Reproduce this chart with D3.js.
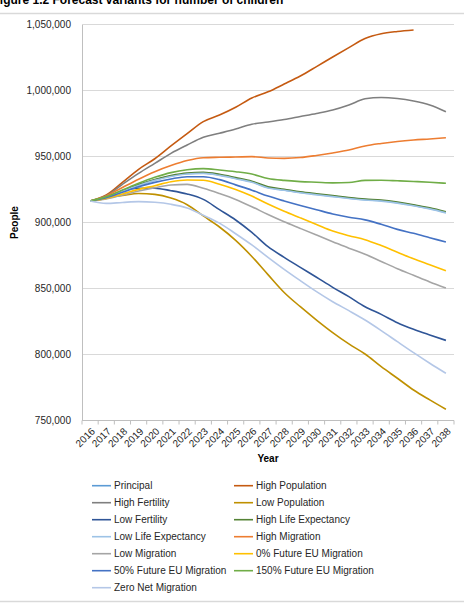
<!DOCTYPE html>
<html>
<head>
<meta charset="utf-8">
<script src="https://cdn.jsdelivr.net/npm/d3@7"></script>
<style>
  body { margin: 0; background: #fff; }
  svg { font-family: "Liberation Sans", Arial, sans-serif; }
</style>
</head>
<body>
<div id="container"></div>
<script>
// data (people, ages 0-15)
const years = d3.range(2016, 2039);

const principal   = [916300, 919100, 923900, 928400, 932200, 935200, 937000, 937500, 936000, 933500, 930800, 926500, 924700, 922800, 921300, 919900, 918500, 917300, 916500, 915000, 913000, 910600, 907600];
const highPop     = [916300, 920800, 930400, 940300, 948300, 958000, 967300, 976400, 981400, 987300, 994300, 999000, 1004900, 1011000, 1018100, 1025400, 1032500, 1039400, 1043000, 1044700, 1045800];
const highFert    = [916300, 920300, 928900, 937200, 944800, 952400, 958700, 964500, 967600, 970800, 974400, 976100, 978000, 980300, 982600, 985200, 989000, 993700, 994700, 993900, 992000, 989000, 983900];
const lowPop      = [916300, 918800, 920500, 922000, 921300, 918500, 913500, 905000, 896600, 886500, 874300, 860500, 847000, 836200, 826100, 816600, 808000, 800400, 790800, 782000, 773100, 765600, 758500];
const lowFert     = [916300, 918300, 924100, 925900, 925900, 924100, 921600, 917500, 909700, 901900, 892500, 881700, 873600, 866000, 858500, 850900, 843800, 836200, 830400, 824100, 819100, 814800, 810700];
const highLE      = [916300, 919200, 924100, 928700, 932600, 935600, 937500, 938000, 936500, 934000, 931300, 927000, 925200, 923300, 921800, 920400, 919000, 917800, 917000, 915500, 913500, 911100, 908100];
const lowLE       = [916300, 919000, 923700, 928100, 931900, 934900, 936700, 937200, 935700, 933200, 930500, 926200, 924400, 922500, 921000, 919600, 918200, 917000, 916200, 914700, 912700, 910300, 907300];
const highMig     = [916300, 920100, 926500, 932800, 938500, 943100, 946900, 949100, 949400, 949600, 949900, 948900, 948600, 949200, 950800, 952700, 954900, 958000, 959900, 961400, 962500, 963300, 964200];
const lowMig      = [916300, 917800, 920800, 923900, 926400, 928400, 928900, 926000, 922000, 917500, 912000, 906000, 900500, 895500, 890500, 885500, 880500, 876000, 870500, 865000, 860000, 855000, 850400];
const eu0         = [916300, 918300, 921600, 925100, 927900, 930900, 932200, 932000, 929000, 925000, 920000, 914000, 908500, 903500, 898500, 893500, 890000, 887000, 882500, 877500, 872500, 868000, 863500];
const eu50        = [916300, 918800, 922900, 927100, 930400, 933000, 934700, 934700, 932500, 928500, 924500, 920000, 916300, 912900, 909700, 906500, 904000, 902000, 898600, 894800, 891800, 888500, 885200];
const eu150       = [916300, 919600, 924600, 929700, 934200, 937800, 940000, 940800, 939800, 938500, 936700, 933400, 931900, 931000, 930500, 930000, 930300, 931900, 932000, 931600, 931100, 930500, 929700];
const zeroNet     = [916300, 914500, 915200, 915800, 915300, 913800, 911000, 905500, 899500, 891500, 883000, 873600, 864500, 855900, 847600, 840000, 833200, 826100, 818100, 809700, 801400, 793400, 785800];

const seriesNames = ["Principal", "High Population", "High Fertility", "Low Population", "Low Fertility",
  "High Life Expectancy", "Low Life Expectancy", "High Migration", "Low Migration",
  "0% Future EU Migration", "50% Future EU Migration", "150% Future EU Migration", "Zero Net Migration"];
const seriesValues = [principal, highPop, highFert, lowPop, lowFert, highLE, lowLE, highMig, lowMig, eu0, eu50, eu150, zeroNet];
const seriesColors = ["#5b9bd5", "#c55a11", "#7f7f7f", "#bf9000", "#2f5597", "#548235", "#9dc3e6",
  "#ed7d31", "#a5a5a5", "#ffc000", "#4472c4", "#70ad47", "#b4c7e7"];

const yTicks = [750000, 800000, 850000, 900000, 950000, 1000000, 1050000];

const w = 464, h = 610;
const plotLeft = 82, plotRight = 454, plotTop = 24.5, plotBottom = 420.5;

const svg = d3.select("#container").append("svg")
  .attr("width", w)
  .attr("height", h);

//title (cut off at the top and left in the original)
svg.append("text")
  .attr("x", -7.5)
  .attr("y", 3.5)
  .attr("font-size", 12)
  .attr("font-weight", "bold")
  .attr("fill", "#000")
  .text("Figure 1.2 Forecast variants for number of children");

svg.append("line")
  .attr("x1", 0).attr("x2", w)
  .attr("y1", 13.5).attr("y2", 13.5)
  .attr("stroke", "#d9d9d9")
  .attr("stroke-width", 1.5);

svg.append("line")
  .attr("x1", 0).attr("x2", w)
  .attr("y1", 601.5).attr("y2", 601.5)
  .attr("stroke", "#d9d9d9")
  .attr("stroke-width", 1.5);

//scales
const xScale = d3.scaleBand()
  .domain(years)
  .range([plotLeft, plotRight]);
const xMid = d => xScale(d) + xScale.bandwidth() / 2;

const yScale = d3.scaleLinear()
  .domain([750000, 1050000])
  .range([plotBottom, plotTop]);

//gridlines
svg.append("g")
  .selectAll("line")
  .data(yTicks.slice(1))
  .join("line")
  .attr("x1", plotLeft).attr("x2", plotRight)
  .attr("y1", d => yScale(d)).attr("y2", d => yScale(d))
  .attr("stroke", "#d9d9d9")
  .attr("stroke-width", 1);

//y axis
const yAxis = d3.axisLeft(yScale)
  .tickValues(yTicks)
  .tickFormat(d3.format(","))
  .tickSize(0)
  .tickPadding(11);
const yG = svg.append("g")
  .attr("transform", `translate(${plotLeft},0)`)
  .call(yAxis);
yG.select(".domain").attr("stroke", "#bfbfbf");
yG.selectAll("text")
  .attr("font-size", 10)
  .attr("font-family", "Liberation Sans, Arial, sans-serif")
  .attr("fill", "#262626");

//x axis with ticks between categories
const xG = svg.append("g")
  .attr("transform", `translate(0,${plotBottom})`);
xG.append("line")
  .attr("x1", plotLeft).attr("x2", plotRight)
  .attr("stroke", "#bfbfbf");
xG.selectAll(".tick-mark")
  .data(years.concat([null]))
  .join("line")
  .attr("class", "tick-mark")
  .attr("x1", (d, i) => plotLeft + i * xScale.bandwidth())
  .attr("x2", (d, i) => plotLeft + i * xScale.bandwidth())
  .attr("y1", 0).attr("y2", 4)
  .attr("stroke", "#bfbfbf");
xG.selectAll(".tick-label")
  .data(years)
  .join("text")
  .attr("class", "tick-label")
  .attr("transform", d => `translate(${xMid(d) + 3},${9}) rotate(-45)`)
  .attr("text-anchor", "end")
  .attr("dy", "0.35em")
  .attr("font-size", 10)
  .attr("fill", "#262626")
  .text(d => d);

//axis titles
svg.append("text")
  .attr("x", (plotLeft + plotRight) / 2)
  .attr("y", 462)
  .attr("text-anchor", "middle")
  .attr("font-size", 10)
  .attr("font-weight", "bold")
  .attr("fill", "#000")
  .text("Year");

svg.append("text")
  .attr("transform", `translate(18,${(plotTop + plotBottom) / 2}) rotate(-90)`)
  .attr("text-anchor", "middle")
  .attr("font-size", 10)
  .attr("font-weight", "bold")
  .attr("fill", "#000")
  .text("People");

//THE LINES
const line = d3.line()
  .x((d, i) => xMid(years[i]))
  .y(d => yScale(d))
  .curve(d3.curveMonotoneX);

svg.append("g")
  .selectAll("path")
  .data(seriesValues)
  .join("path")
  .attr("d", d => line(d))
  .attr("fill", "none")
  .attr("stroke", (d, i) => seriesColors[i])
  .attr("stroke-width", 1.6);

//THE LEGEND
const legend = svg.append("g").attr("id", "legend");
const item = legend.selectAll("g")
  .data(seriesNames)
  .join("g")
  .attr("transform", (d, i) => `translate(${i % 2 === 0 ? 92 : 234},${485.7 + Math.floor(i / 2) * 17})`);
item.append("line")
  .attr("x1", 0).attr("x2", 19)
  .attr("stroke", (d, i) => seriesColors[i])
  .attr("stroke-width", 1.6);
item.append("text")
  .attr("x", 22)
  .attr("dy", "0.35em")
  .attr("font-size", 10)
  .attr("fill", "#262626")
  .text(d => d);
</script>
</body>
</html>
